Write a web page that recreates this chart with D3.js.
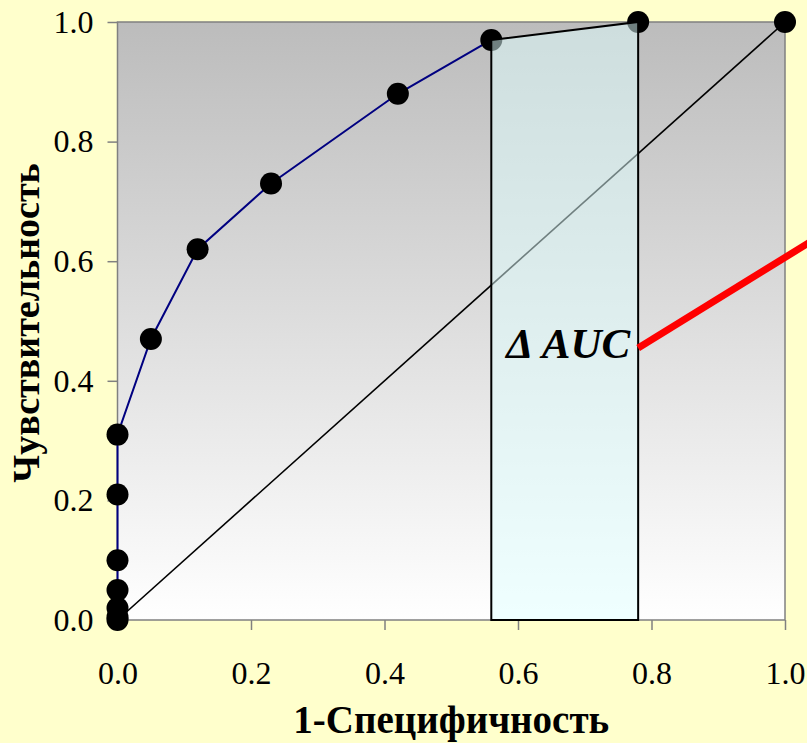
<!DOCTYPE html>
<html>
<head>
<meta charset="utf-8">
<script src="https://cdn.jsdelivr.net/npm/d3@7/dist/d3.min.js"></script>
<style>
  html, body { margin: 0; padding: 0; background: #FFFFCC; }
  svg { display: block; }
  .tick text { font-family: "Liberation Serif", "Times New Roman", serif; font-size: 32px; fill: #000; }
  .tick line { stroke: #808080; stroke-width: 1.5; }
</style>
</head>
<body>
<svg id="chart" width="807" height="743"></svg>
<script>
// ROC curve: false positive rate (1 - specificity) vs. sensitivity
const fpr         = [0, 0,    0,    0,    0,    0,    0,    0.05, 0.12, 0.23, 0.42, 0.56, 0.78, 1.0];
const sensitivity = [0, 0.005, 0.02, 0.05, 0.10, 0.21, 0.31, 0.47, 0.62, 0.73, 0.88, 0.97, 1.0, 1.0];
const tickValues  = [0, 0.2, 0.4, 0.6, 0.8, 1.0];
const tickLabels  = ["0.0", "0.2", "0.4", "0.6", "0.8", "1.0"];

// Highlighted strip between two operating points (ΔAUC)
const stripFrom = 11, stripTo = 12;
// Label and pointer for the strip
const aucLabel = "Δ AUC";
const aucLabelPos = [0.768, 0.438];
const pointer = [[0.78, 0.455], [1.10, 0.675]];

const xTitle = "1-Специфичность";
const yTitle = "Чувствительность";

const svg = d3.select("#chart");
const plotLeft = 117.5, plotRight = 785, plotTop = 22, plotBottom = 620;

const x = d3.scaleLinear().domain([0, 1]).range([plotLeft, plotRight]);
const y = d3.scaleLinear().domain([0, 1]).range([plotBottom, plotTop]);

// Plot background gradient: grey at top fading to white
const defs = svg.append("defs");
const grad = defs.append("linearGradient").attr("id", "bg").attr("x1", 0).attr("y1", 0).attr("x2", 0).attr("y2", 1);
grad.append("stop").attr("offset", "0%").attr("stop-color", "#BCBCBC");
grad.append("stop").attr("offset", "100%").attr("stop-color", "#FFFFFF");

svg.append("rect")
  .attr("x", plotLeft).attr("y", plotTop)
  .attr("width", plotRight - plotLeft).attr("height", plotBottom - plotTop)
  .attr("fill", "url(#bg)")
  .attr("stroke", "#808080").attr("stroke-width", 1.5);

// Axes
const fmt = d => tickLabels[tickValues.indexOf(d)];
svg.append("g")
  .attr("transform", `translate(0,${plotBottom})`)
  .call(d3.axisBottom(x).tickValues(tickValues).tickFormat(fmt).tickSize(10).tickPadding(31))
  .call(g => g.select(".domain").remove());
svg.append("g")
  .attr("transform", `translate(${plotLeft},0)`)
  .call(d3.axisLeft(y).tickValues(tickValues).tickFormat(fmt).tickSize(10).tickPadding(14))
  .call(g => g.select(".domain").remove());

// Chance diagonal
svg.append("line")
  .attr("x1", x(0)).attr("y1", y(0)).attr("x2", x(1)).attr("y2", y(1))
  .attr("stroke", "#000").attr("stroke-width", 1.6);

// ROC curve (up to the start of the highlighted strip)
const pts = fpr.map((f, i) => [f, sensitivity[i]]);
svg.append("path")
  .datum(pts.slice(0, stripFrom + 1))
  .attr("d", d3.line().x(d => x(d[0])).y(d => y(d[1])))
  .attr("fill", "none").attr("stroke", "#000080").attr("stroke-width", 2);

// Operating points
svg.append("g").selectAll("circle")
  .data(pts)
  .join("circle")
  .attr("cx", d => x(d[0])).attr("cy", d => y(d[1]))
  .attr("r", 11).attr("fill", "#000");

// ΔAUC strip
const strip = [
  [fpr[stripFrom], 0],
  [fpr[stripFrom], sensitivity[stripFrom]],
  [fpr[stripTo], sensitivity[stripTo]],
  [fpr[stripTo], 0]
];
svg.append("path")
  .datum(strip)
  .attr("d", d3.line().x(d => x(d[0])).y(d => y(d[1])).curve(d3.curveLinearClosed))
  .attr("fill", "#E0FFFF").attr("fill-opacity", 0.5)
  .attr("stroke", "#000").attr("stroke-width", 2);

svg.append("text")
  .attr("x", x(aucLabelPos[0])).attr("y", y(aucLabelPos[1]))
  .attr("text-anchor", "end")
  .attr("font-family", "Liberation Serif, Times New Roman, serif")
  .attr("font-size", 43).attr("font-weight", "bold").attr("font-style", "italic")
  .text(aucLabel);

svg.append("line")
  .attr("x1", x(pointer[0][0])).attr("y1", y(pointer[0][1]))
  .attr("x2", x(pointer[1][0])).attr("y2", y(pointer[1][1]))
  .attr("stroke", "#FF0000").attr("stroke-width", 7);

// Axis titles
svg.append("text")
  .attr("x", (plotLeft + plotRight) / 2).attr("y", 733)
  .attr("text-anchor", "middle")
  .attr("font-family", "Liberation Serif, Times New Roman, serif")
  .attr("font-size", 39).attr("font-weight", "bold")
  .text(xTitle);

svg.append("text")
  .attr("transform", `translate(39,${(plotTop + plotBottom) / 2 + 2}) rotate(-90)`)
  .attr("text-anchor", "middle")
  .attr("font-family", "Liberation Serif, Times New Roman, serif")
  .attr("font-size", 38).attr("font-weight", "bold")
  .text(yTitle);
</script>
</body>
</html>
